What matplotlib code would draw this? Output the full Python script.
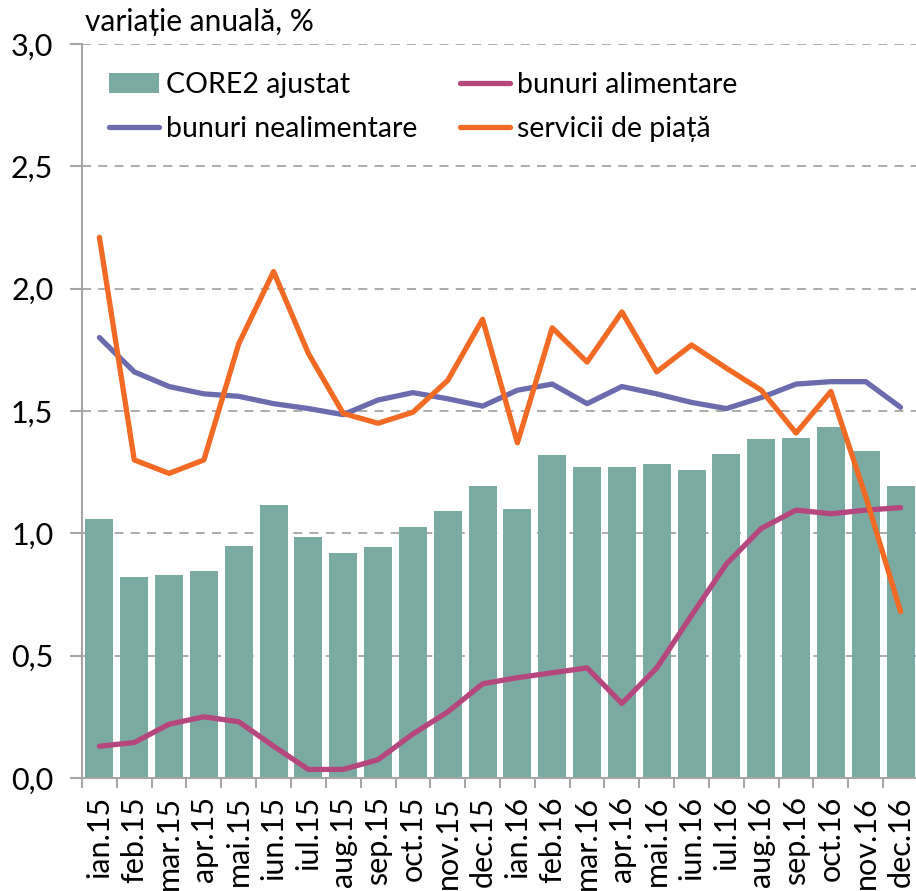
import matplotlib
matplotlib.use("Agg")
import matplotlib.pyplot as plt
from matplotlib.ticker import FixedLocator, FuncFormatter
import numpy as np

plt.rcParams['font.family'] = ['Lato', 'DejaVu Sans']

months = ["ian.15", "feb.15", "mar.15", "apr.15", "mai.15", "iun.15", "iul.15", "aug.15",
          "sep.15", "oct.15", "nov.15", "dec.15", "ian.16", "feb.16", "mar.16", "apr.16",
          "mai.16", "iun.16", "iul.16", "aug.16", "sep.16", "oct.16", "nov.16", "dec.16"]

core2 = [1.06, 0.82, 0.83, 0.845, 0.95, 1.115, 0.985, 0.92, 0.945, 1.025, 1.09, 1.195,
         1.10, 1.32, 1.27, 1.27, 1.285, 1.26, 1.325, 1.385, 1.39, 1.435, 1.335, 1.195]

nealimentare = [1.80, 1.66, 1.60, 1.57, 1.56, 1.53, 1.51, 1.485, 1.545, 1.575, 1.55, 1.52,
                1.585, 1.61, 1.53, 1.60, 1.57, 1.535, 1.51, 1.555, 1.61, 1.62, 1.62, 1.515]

alimentare = [0.13, 0.145, 0.22, 0.25, 0.23, 0.13, 0.035, 0.035, 0.075, 0.18, 0.27, 0.385,
              0.41, 0.43, 0.45, 0.305, 0.45, 0.665, 0.875, 1.02, 1.095, 1.08, 1.095, 1.105]

servicii = [2.21, 1.30, 1.245, 1.30, 1.775, 2.07, 1.735, 1.49, 1.45, 1.495, 1.625, 1.875,
            1.37, 1.84, 1.70, 1.905, 1.66, 1.77, 1.675, 1.585, 1.41, 1.58, 1.15, 0.68]

W, H = 916, 891
fig = plt.figure(figsize=(W / 100, H / 100), dpi=100)
ax = fig.add_axes([82 / W, 1 - 778 / H, (918 - 82) / W, (778 - 44) / H])

x = np.arange(len(months))
bar_c = "#7BAAA3"
blue_c = "#6C6BAE"
mag_c = "#B5467E"
ora_c = "#F26A24"

ax.bar(x, core2, width=0.8, color=bar_c, label="CORE2 ajustat", zorder=2)
ax.plot(x, nealimentare, color=blue_c, lw=3.8, label="bunuri nealimentare", zorder=3,
        solid_capstyle='round', solid_joinstyle='round')
ax.plot(x, alimentare, color=mag_c, lw=3.8, label="bunuri alimentare", zorder=3,
        solid_capstyle='round', solid_joinstyle='round')
ax.plot(x, servicii, color=ora_c, lw=3.8, label="servicii de piață", zorder=4,
        solid_capstyle='round', solid_joinstyle='round')

ax.set_xlim(-0.5, len(months) - 0.5)
ax.set_ylim(0, 3.0)
ax.set_yticks(np.arange(0, 3.01, 0.5))
ax.yaxis.set_major_formatter(FuncFormatter(lambda v, p: f"{v:.1f}".replace(".", ",")))

for v in np.arange(0.5, 3.01, 0.5):
    ax.axhline(v, color="#A6A6A6", lw=1.3, ls=(0, (5, 4)), zorder=1)

ax.set_xticks(x)
ax.set_xticklabels(months, rotation=90, fontsize=22)
ax.xaxis.set_minor_locator(FixedLocator(np.arange(-0.5, len(months), 1.0)))
ax.tick_params(axis='x', which='major', length=0, pad=13)
ax.tick_params(axis='x', which='minor', length=7, width=1.5, color="#A6A6A6", direction='out')
ax.tick_params(axis='y', which='major', length=8.6, width=1.5, color="#A6A6A6", labelsize=22, pad=12)

for s in ["top", "right"]:
    ax.spines[s].set_visible(False)
for s in ["left", "bottom"]:
    ax.spines[s].set_color("#A6A6A6")
    ax.spines[s].set_linewidth(1.5)

fig.text(85 / W, 1 - 22 / H, "variație anuală, %", fontsize=21.5, va='center', ha='left')

h, l = ax.get_legend_handles_labels()
order = [l.index("CORE2 ajustat"), l.index("bunuri nealimentare"),
         l.index("bunuri alimentare"), l.index("servicii de piață")]
leg = ax.legend([h[i] for i in order], [l[i] for i in order], ncol=2, frameon=False,
                fontsize=20.5, loc='upper left', bbox_to_anchor=(27 / 836, 1 - 28 / 734),
                handlelength=1.75, handletextpad=0.25, columnspacing=1.5, labelspacing=0.62,
                borderaxespad=0, borderpad=0)

fig.savefig("out.png", dpi=100)
